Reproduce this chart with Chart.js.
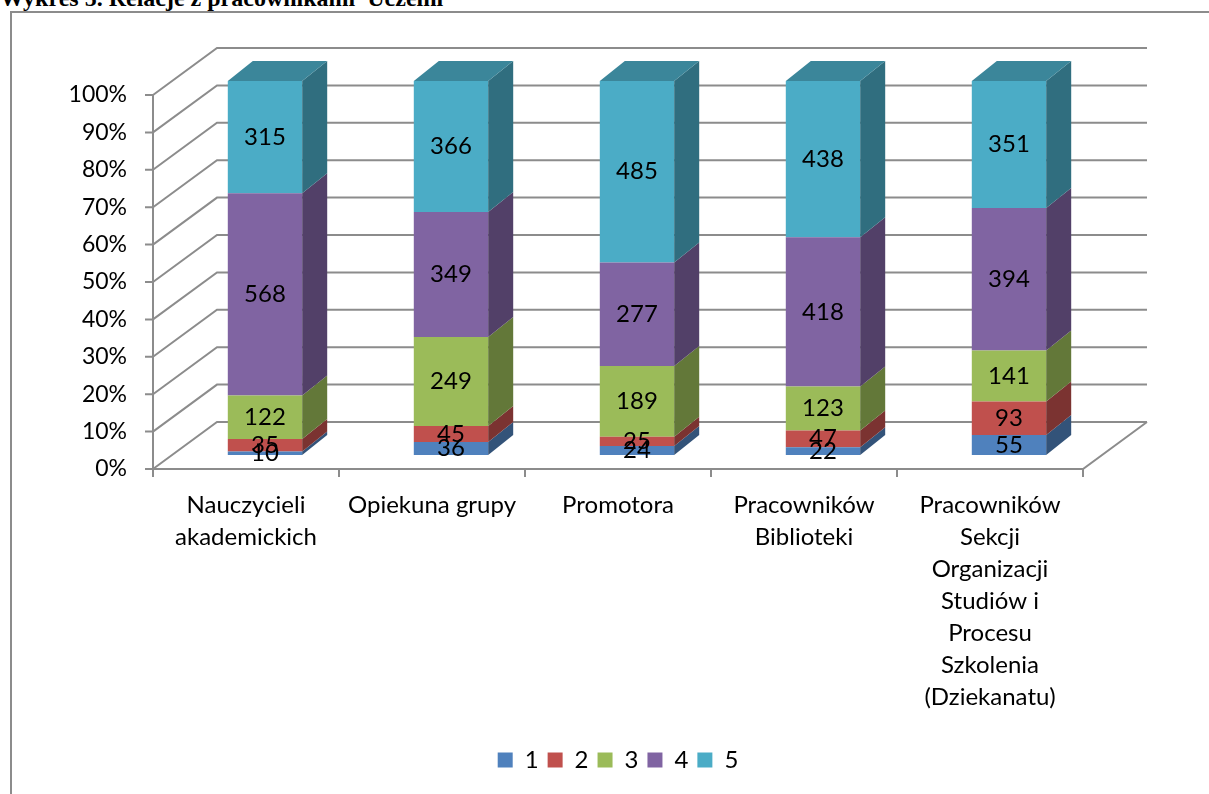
<!DOCTYPE html>
<html>
<head>
<meta charset="utf-8">
<script src="https://cdn.jsdelivr.net/npm/chart.js@4/dist/chart.umd.min.js"></script>
<style>
  html, body { margin: 0; padding: 0; background: #fff; overflow: hidden; }
  #title { position: absolute; left: 0; top: -14px; font: bold 24px "Liberation Serif", serif; line-height: 1; white-space: pre; }
  #frame { position: absolute; left: 10px; top: 11px; width: 1300px; height: 900px; border: 2px solid #8c8c8c; box-sizing: border-box; }
  #chart { position: absolute; left: 0; top: 0; }
</style>
</head>
<body>
<div id="title">Wykres 5. Relacje z pracownikami  Uczelni</div>
<div id="frame"></div>
<canvas id="chart" width="1209" height="794"></canvas>
<script>
var categories = [
  ["Nauczycieli", "akademickich"],
  ["Opiekuna grupy"],
  ["Promotora"],
  ["Pracowników", "Biblioteki"],
  ["Pracowników", "Sekcji", "Organizacji", "Studiów i", "Procesu", "Szkolenia", "(Dziekanatu)"]
];
var seriesNames = ["1", "2", "3", "4", "5"];
var grade1 = [10, 36, 24, 22, 55];
var grade2 = [35, 45, 25, 47, 93];
var grade3 = [122, 249, 189, 123, 141];
var grade4 = [568, 349, 277, 418, 394];
var grade5 = [315, 366, 485, 438, 351];
var colors = ["#4F81BD", "#C0504D", "#9BBB59", "#8064A2", "#4BACC6"];

var raw = [grade1, grade2, grade3, grade4, grade5];
var totals = categories.map(function(c, j) {
  return raw.reduce(function(s, arr) { return s + arr[j]; }, 0);
});

// 3d offsets (px)
var DX = 19, DY = -14;    // bar front face vs. front plane
var BDX = 25, BDY = -20;  // bar depth
var WDX = 64, WDY = -47;  // back wall
var FONT = "Lato";

function shade(hex, f) {
  var n = parseInt(hex.slice(1), 16);
  return "rgb(" + Math.round((n >> 16 & 255) * f) + "," + Math.round((n >> 8 & 255) * f) + "," + Math.round((n & 255) * f) + ")";
}

var box3d = {
  id: "box3d",
  beforeDatasetsDraw: function(chart) {
    var ctx = chart.ctx, a = chart.chartArea, ys = chart.scales.y;
    ctx.save();
    ctx.strokeStyle = "#8c8c8c";
    ctx.lineWidth = 2;
    ctx.beginPath();
    for (var v = 0; v <= 100; v += 10) {
      var py = ys.getPixelForValue(v);
      ctx.moveTo(a.left, py);
      ctx.lineTo(a.left + WDX, py + WDY);
      ctx.lineTo(a.right + WDX, py + WDY);
      ctx.moveTo(a.left - 8, py);
      ctx.lineTo(a.left, py);
    }
    ctx.moveTo(a.left, a.top);
    ctx.lineTo(a.left, a.bottom);
    ctx.lineTo(a.right, a.bottom);
    ctx.lineTo(a.right + WDX, a.bottom + WDY);
    var step = (a.right - a.left) / categories.length;
    for (var k = 0; k <= categories.length; k++) {
      ctx.moveTo(a.left + k * step, a.bottom);
      ctx.lineTo(a.left + k * step, a.bottom + 8);
    }
    ctx.stroke();
    ctx.restore();
    ctx.save();
    ctx.translate(DX, DY);
  },
  afterDatasetsDraw: function(chart) {
    var ctx = chart.ctx;
    var last = chart.data.datasets.length - 1;
    chart.data.datasets.forEach(function(ds, i) {
      chart.getDatasetMeta(i).data.forEach(function(bar) {
        var p = bar.getProps(["x", "y", "base", "width"], true);
        var l = p.x - p.width / 2, r = p.x + p.width / 2;
        var t = Math.min(p.y, p.base), b = Math.max(p.y, p.base);
        ctx.fillStyle = shade(colors[i], 0.64);
        ctx.beginPath();
        ctx.moveTo(r, t); ctx.lineTo(r + BDX, t + BDY); ctx.lineTo(r + BDX, b + BDY); ctx.lineTo(r, b);
        ctx.closePath(); ctx.fill();
        if (i === last) {
          ctx.fillStyle = shade(colors[i], 0.78);
          ctx.beginPath();
          ctx.moveTo(l, t); ctx.lineTo(l + BDX, t + BDY); ctx.lineTo(r + BDX, t + BDY); ctx.lineTo(r, t);
          ctx.closePath(); ctx.fill();
        }
      });
    });
    // value labels
    ctx.fillStyle = "#000";
    ctx.font = "24px " + FONT;
    ctx.textAlign = "center";
    ctx.textBaseline = "middle";
    chart.data.datasets.forEach(function(ds, i) {
      chart.getDatasetMeta(i).data.forEach(function(bar, j) {
        var p = bar.getProps(["x", "y", "base"], true);
        ctx.fillText(String(raw[i][j]), p.x, (p.y + p.base) / 2);
      });
    });
    ctx.restore();
  }
};

new Chart(document.getElementById("chart"), {
  type: "bar",
  data: {
    labels: categories,
    datasets: seriesNames.map(function(name, i) {
      return {
        label: name,
        data: raw[i].map(function(v, j) { return v / totals[j] * 100; }),
        backgroundColor: colors[i],
        borderWidth: 0,
        barPercentage: 0.4,
        categoryPercentage: 1,
        clip: false
      };
    })
  },
  options: {
    responsive: false,
    animation: false,
    layout: { padding: { top: 95, right: 126, left: 0, bottom: 12 } },
    scales: {
      x: {
        stacked: true,
        grid: { display: false, drawTicks: false },
        border: { display: false },
        ticks: { color: "#000", font: { family: FONT, size: 24, lineHeight: 1.335 }, maxRotation: 0, autoSkip: false, padding: 20 },
        afterFit: function(s) { s.height = 270; }
      },
      y: {
        stacked: true,
        min: 0, max: 100,
        grid: { display: false, drawTicks: false },
        border: { display: false },
        ticks: { stepSize: 10, color: "#000", font: { family: FONT, size: 23 }, padding: 26,
          callback: function(v) { return v + "%"; } },
        afterFit: function(s) { s.width = 153; }
      }
    },
    plugins: {
      legend: {
        position: "bottom",
        fullSize: false,
        labels: { color: "#000", font: { family: FONT, size: 24 }, boxWidth: 15, boxHeight: 15, padding: 9 }
      },
      tooltip: { enabled: false }
    }
  },
  plugins: [box3d]
});
</script>
</body>
</html>
